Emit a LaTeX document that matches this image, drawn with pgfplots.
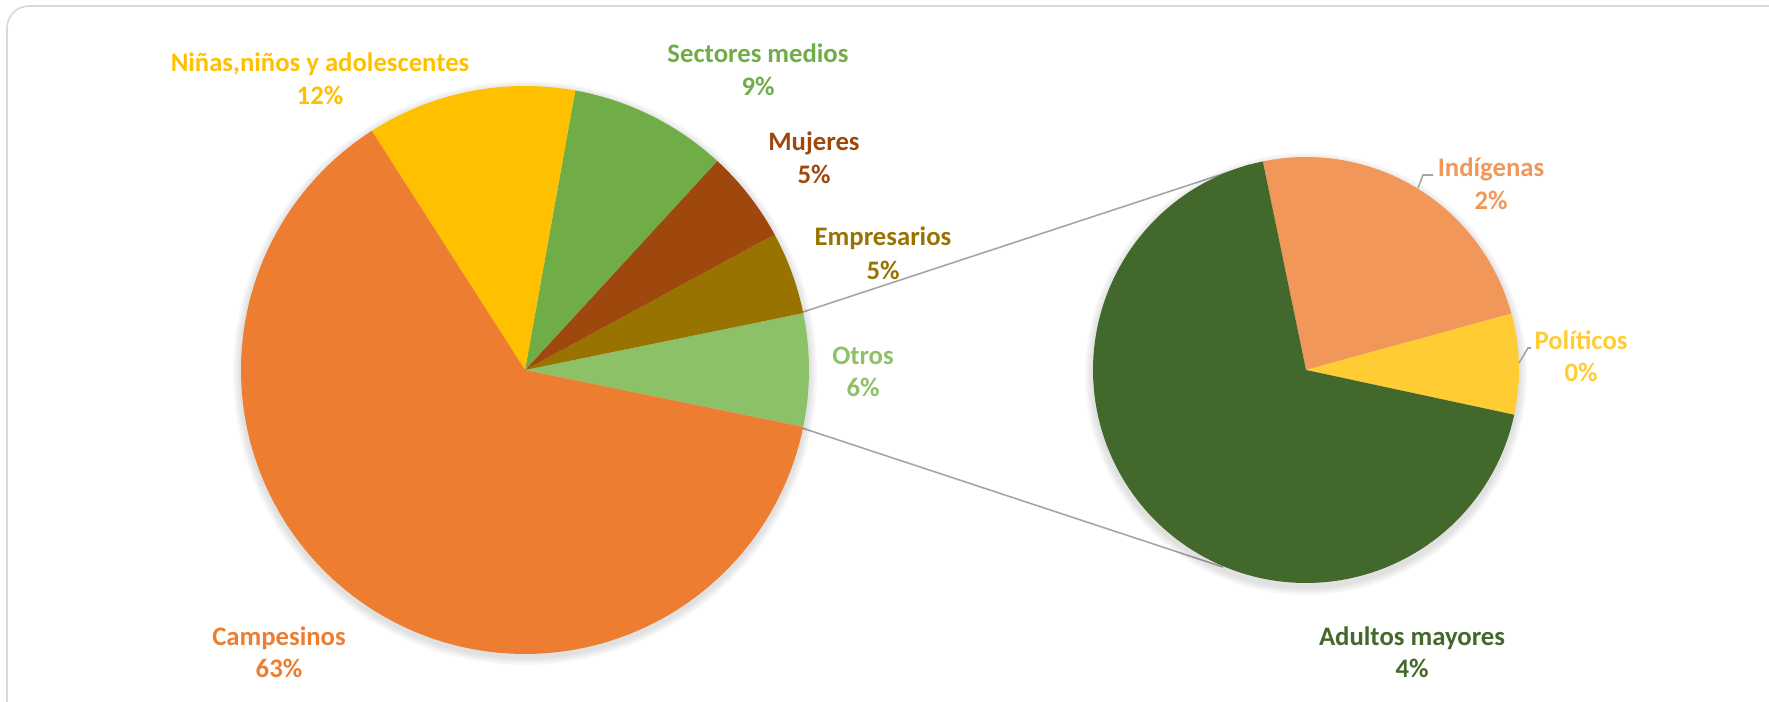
\documentclass[border=0pt]{standalone}
\usepackage{pgfplots}
\pgfplotsset{compat=1.18}
\usepackage{fontspec}
\setmainfont{Carlito}
\definecolor{cCamp}{HTML}{ED7D31}
\definecolor{cNin}{HTML}{FFC000}
\definecolor{cSec}{HTML}{70AD47}
\definecolor{cMuj}{HTML}{9E480E}
\definecolor{cEmp}{HTML}{997300}
\definecolor{cOtr}{HTML}{8CC168}
\definecolor{cInd}{HTML}{F1975A}
\definecolor{cPol}{HTML}{FFCD33}
\definecolor{cAdu}{HTML}{43682B}
\definecolor{cLine}{HTML}{A5A5A5}
\definecolor{cFrame}{HTML}{D9D9D9}
% data (percent)
\def\vC{62.7}  % Campesinos
\def\vN{11.9}  % Ninas, ninos y adolescentes
\def\vS{9.0}   % Sectores medios
\def\vM{5.25}  % Mujeres
\def\vE{4.7}   % Empresarios
\def\vI{1.54}  % Indigenas
\def\vP{0.49}  % Politicos
\def\vA{4.39}  % Adultos mayores
\pgfmathsetmacro{\vO}{\vI+\vP+\vA}
\pgfmathsetmacro{\T}{\vC+\vN+\vS+\vM+\vE+\vO}
\pgfmathsetmacro{\kk}{360/\T}
\pgfmathsetmacro{\aO}{0.5*\vO*\kk}
\pgfmathsetmacro{\aOn}{-\aO}
\pgfmathsetmacro{\aE}{\aO+\vE*\kk}
\pgfmathsetmacro{\aM}{\aE+\vM*\kk}
\pgfmathsetmacro{\aS}{\aM+\vS*\kk}
\pgfmathsetmacro{\aN}{\aS+\vN*\kk}
\pgfmathsetmacro{\aC}{\aN+\vC*\kk}
% second pie
\pgfmathsetmacro{\kb}{360/\vO}
\def\bStart{101.7}
\pgfmathsetmacro{\bI}{\bStart-\vI*\kb}
\pgfmathsetmacro{\bP}{\bI-\vP*\kb}
\pgfmathsetmacro{\bA}{\bP-\vA*\kb}
\def\cxa{525}\def\cya{331}\def\ra{284}
\def\cxb{1306}\def\cyb{331}\def\rb{213}
\begin{document}
\begin{tikzpicture}
\useasboundingbox (0,0) rectangle (176.9mm,70.1mm);
\begin{scope}
\clip (0,0) rectangle (176.9mm,70.1mm);
\draw[cFrame, line width=0.45pt, rounded corners=2.2mm] (0.7mm,-3mm) rectangle (180mm,69.5mm);
\end{scope}
\begin{axis}[at={(0,0)}, anchor=south west, scale only axis,
  width=176.9mm, height=70.1mm, xmin=0, xmax=1769, ymin=0, ymax=701,
  hide axis, clip=false]
% connector lines
\addplot[cLine, line width=0.45pt] coordinates {(803,389) (1250,536)};
\addplot[cLine, line width=0.45pt] coordinates {(802,273) (1223,134)};
% shadows
\foreach \k in {2,4,6,8}{
\addplot[fill=black, fill opacity=0.03, draw=none, domain=0:360, samples=120]
  ({\cxa+(\ra+\k)*cos(x)},{\cya-3+(\ra+\k)*sin(x)}) -- cycle;
\addplot[fill=black, fill opacity=0.03, draw=none, domain=0:360, samples=120]
  ({\cxb+(\rb+\k)*cos(x)},{\cyb-4+(\rb+\k)*sin(x)}) -- cycle;
}
% first pie
\addplot[fill=cOtr, draw=none, domain=\aOn:\aO, samples=20] ({\cxa+\ra*cos(x)},{\cya+\ra*sin(x)}) -- (axis cs:\cxa,\cya) -- cycle;
\addplot[fill=cEmp, draw=none, domain=\aO:\aE, samples=20] ({\cxa+\ra*cos(x)},{\cya+\ra*sin(x)}) -- (axis cs:\cxa,\cya) -- cycle;
\addplot[fill=cMuj, draw=none, domain=\aE:\aM, samples=20] ({\cxa+\ra*cos(x)},{\cya+\ra*sin(x)}) -- (axis cs:\cxa,\cya) -- cycle;
\addplot[fill=cSec, draw=none, domain=\aM:\aS, samples=30] ({\cxa+\ra*cos(x)},{\cya+\ra*sin(x)}) -- (axis cs:\cxa,\cya) -- cycle;
\addplot[fill=cNin, draw=none, domain=\aS:\aN, samples=30] ({\cxa+\ra*cos(x)},{\cya+\ra*sin(x)}) -- (axis cs:\cxa,\cya) -- cycle;
\addplot[fill=cCamp, draw=none, domain=\aN:\aC, samples=120] ({\cxa+\ra*cos(x)},{\cya+\ra*sin(x)}) -- (axis cs:\cxa,\cya) -- cycle;
% second pie
\addplot[fill=cInd, draw=none, domain=\bI:\bStart, samples=40] ({\cxb+\rb*cos(x)},{\cyb+\rb*sin(x)}) -- (axis cs:\cxb,\cyb) -- cycle;
\addplot[fill=cPol, draw=none, domain=\bP:\bI, samples=20] ({\cxb+\rb*cos(x)},{\cyb+\rb*sin(x)}) -- (axis cs:\cxb,\cyb) -- cycle;
\addplot[fill=cAdu, draw=none, domain=\bA:\bP, samples=120] ({\cxb+\rb*cos(x)},{\cyb+\rb*sin(x)}) -- (axis cs:\cxb,\cyb) -- cycle;
% leader lines
\addplot[cLine, line width=0.45pt] coordinates {(1418,513) (1423,526) (1433,526)};
\addplot[cLine, line width=0.45pt] coordinates {(1519,338) (1528,353) (1531,353)};
% labels
\tikzset{lab/.style={anchor=base, font=\bfseries\fontsize{7.6}{9}\selectfont, inner sep=0pt}}
\node[lab, text=cNin] at (axis cs:320,629) {Niñas,niños y adolescentes};
\node[lab, text=cNin] at (axis cs:320,596) {12\%};
\node[lab, text=cSec] at (axis cs:758,638) {Sectores medios};
\node[lab, text=cSec] at (axis cs:758,605) {9\%};
\node[lab, text=cMuj] at (axis cs:814,550) {Mujeres};
\node[lab, text=cMuj] at (axis cs:814,517) {5\%};
\node[lab, text=cEmp] at (axis cs:883,455) {Empresarios};
\node[lab, text=cEmp] at (axis cs:883,421) {5\%};
\node[lab, text=cOtr] at (axis cs:863,336) {Otros};
\node[lab, text=cOtr] at (axis cs:863,304) {6\%};
\node[lab, text=cCamp] at (axis cs:279,56) {Campesinos};
\node[lab, text=cCamp] at (axis cs:279,24) {63\%};
\node[lab, text=cInd] at (axis cs:1491,524) {Indígenas};
\node[lab, text=cInd] at (axis cs:1491,491) {2\%};
\node[lab, text=cPol] at (axis cs:1581,351) {Políticos};
\node[lab, text=cPol] at (axis cs:1581,319) {0\%};
\node[lab, text=cAdu] at (axis cs:1412,56) {Adultos mayores};
\node[lab, text=cAdu] at (axis cs:1412,24) {4\%};
\end{axis}
\end{tikzpicture}
\end{document}
